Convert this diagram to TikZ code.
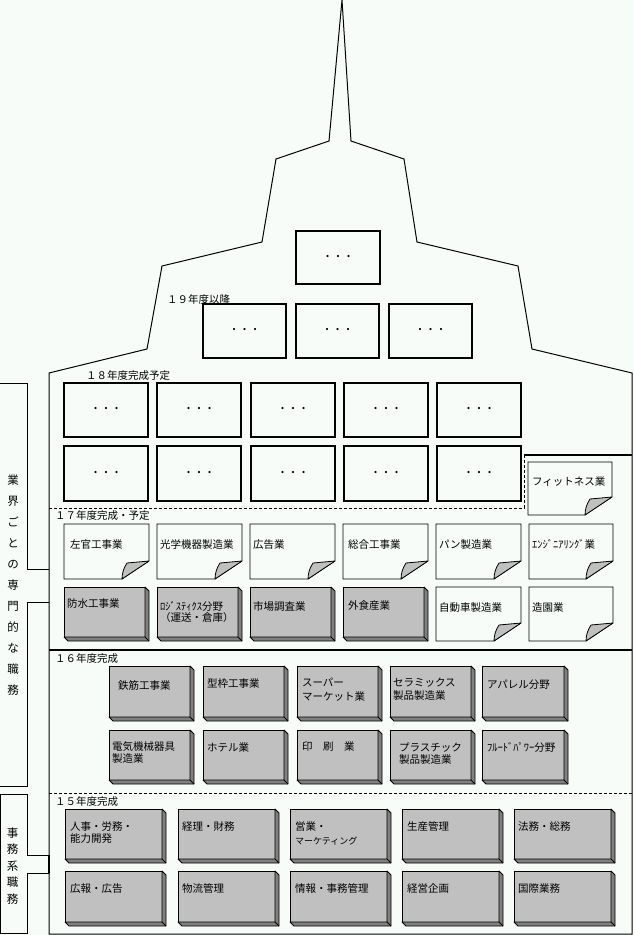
\documentclass[tikz,border=0pt]{standalone}
\usepackage{fontspec}
\newfontfamily\jfont{Noto Sans CJK JP}
\usepackage{tikz}
\definecolor{paper}{RGB}{248,252,248}
\definecolor{facegray}{RGB}{192,192,192}
\definecolor{sidegray}{RGB}{128,128,128}
\tikzset{
	jtext/.style={font=\jfont\fontsize{10.5}{12}\selectfont, inner sep=0pt, outer sep=0pt, align=left},
	outline/.style={draw=black, line width=1pt},
	dotbox/.style={draw=black, line width=1.6pt, fill=paper, anchor=north west, inner sep=0pt, outer sep=0pt, font=\jfont\fontsize{10.5}{12}\selectfont},
	grayface/.style={draw=black, line width=0.8pt, fill=facegray, anchor=north west, inner sep=0pt, outer sep=0pt},
	grayside/.style={draw=black, line width=0.8pt, fill=sidegray, line join=bevel},
	notepage/.style={draw=black, line width=0.8pt, fill=paper},
	notecurl/.style={draw=black, line width=0.8pt, fill=facegray, line join=bevel},
	divider/.style={draw=black, line width=0.8pt, dash pattern=on 3pt off 2pt},
	boldline/.style={draw=black, line width=2pt}
}
% name, x, y, w, h
\newcommand{\dotcell}[5]{\node[dotbox, minimum width=#4pt, minimum height=#5pt] (#1) at (#2,#3) {・・・};}
% name, x, y, w, h, dx, dy, text
\newcommand{\graycell}[8]{%
	\node[grayface, minimum width=#4pt, minimum height=#5pt] (#1) at (#2,#3) {};
	\draw[grayside] (#1.north east) -- ++(4,4) -- ++(0,#5) -- ++(-#4,0) -- (#1.south west) -- (#1.south east) -- cycle;
	\draw[line width=0.8pt] (#1.south east) -- ++(4,4);
	\node[jtext, anchor=north west] (#1-t) at ([shift={(#6,#7-5)}]#1.north west) {#8};
}
\newcommand{\notecell}[8]{%
	\coordinate (#1) at (#2,#3);
	\draw[notepage] (#1) -- ++(#4,0) -- ++(0,#5-18) -- ++(-27,18) -- ++(27-#4,0) -- cycle;
	\draw[notecurl] ([shift={(#4,#5-18)}]#1) -- ++(-27,18) to[bend left=15] ([shift={(#4-22,#5-16)}]#1) -- cycle;
	\node[jtext, anchor=north west] (#1-t) at ([shift={(#6,#7-5)}]#1) {#8};
}

\begin{document}
\begin{tikzpicture}[x=1pt, y=-1pt]
	\useasboundingbox (0,0) rectangle (633,935);
	\fill[paper] (0,0) rectangle (633,935);

	% building
	\draw[outline, fill=paper, line join=miter] (49,934) -- (49,373) -- (147,349) -- (162,266) -- (262,242) -- (276,159) -- (329,141) -- (342,0)
		-- (351,141) -- (404,159) -- (417,242) -- (518,266) -- (532,349) -- (632,373) -- (632,934) -- cycle;
	\draw[divider] (49,508) -- (524,508) -- (524,455);
	\draw[boldline] (524,455) -- (632,455);
	\draw[boldline] (49,650) -- (632,650);
	\draw[divider] (49,793) -- (632,793);

	% side labels
	\draw[outline] (49,569) -- (27,569) -- (27,383) -- (0,383);
	\draw[outline] (0,786) -- (27,786) -- (27,602) -- (49,602);
	\draw[outline] (49,855) -- (27,855) -- (27,794) -- (0.5,794) -- (0.5,933) -- (27,933) -- (27,873) -- (49,873);
	\draw[boldline] (49,855) -- (49,873);
	\node[jtext, align=center, font=\jfont\fontsize{11.5}{21}\selectfont] (side1) at (13,585) {業\\界\\ご\\と\\の\\専\\門\\的\\な\\職\\務};
	\node[jtext, align=center, font=\jfont\fontsize{11.5}{16.5}\selectfont] (side2) at (12.5,866) {事\\務\\系\\職\\務};

	% year labels
	\node[jtext, anchor=west] (y19) at (167,299) {１９年度以降};
	\node[jtext, anchor=west] (y18) at (86,376) {１８年度完成予定};
	\node[jtext, anchor=west] (y17) at (55,516) {１７年度完成・予定};
	\node[jtext, anchor=west] (y16) at (55,659) {１６年度完成};
	\node[jtext, anchor=west] (y15) at (55,802) {１５年度完成};

	% 19 and later
	\dotcell{d0}{296}{231}{84}{53}
	\foreach \i/\x in {1/203,2/296,3/389}
		\dotcell{d19-\i}{\x}{304}{83}{54};
	% 18
	\foreach \i/\x in {1/64,2/157,3/251,4/344,5/437}{
		\dotcell{d18a-\i}{\x}{383}{84}{54}
		\dotcell{d18b-\i}{\x}{446}{84}{55}
	}
	\notecell{fit}{528}{462}{84}{53}{4}{20}{フィットネス業}

	% 17
	\notecell{n1}{64}{524}{85}{55}{6}{21}{左官工事業}
	\notecell{n2}{157}{524}{85}{55}{3}{21}{光学機器製造業}
	\notecell{n3}{250}{524}{85}{55}{3}{21}{広告業}
	\notecell{n4}{343}{524}{85}{55}{5}{21}{総合工事業}
	\notecell{n5}{436}{524}{85}{55}{3}{21}{パン製造業}
	\notecell{n6}{529}{524}{84}{55}{3}{21}{ｴﾝｼﾞﾆｱﾘﾝｸﾞ業}
	\graycell{g1}{64}{587}{81}{50}{3}{17}{防水工事業}
	\graycell{g2}{157}{587}{81}{50}{3}{20}{ﾛｼﾞｽﾃｨｸｽ分野\\[-1pt]（運送・倉庫）}
	\graycell{g3}{250}{587}{81}{50}{3}{20}{市場調査業}
	\graycell{g4}{343}{587}{81}{50}{5}{19}{外食産業}
	\notecell{n7}{436}{587}{85}{54}{3}{21}{自動車製造業}
	\notecell{n8}{529}{587}{84}{54}{3}{21}{造園業}

	% 16
	\graycell{g5}{109}{666}{81}{51}{9}{20}{鉄筋工事業}
	\graycell{g6}{203}{666}{81}{51}{4}{18}{型枠工事業}
	\graycell{g7}{297}{666}{81}{51}{5}{17}{スーパー\\[2pt]マーケット業}
	\graycell{g8}{390}{666}{81}{51}{3}{17}{セラミックス\\[1pt]製品製造業}
	\graycell{g9}{482}{666}{82}{51}{5}{19}{アパレル分野}
	\graycell{g10}{109}{730}{81}{50}{3}{17}{電気機械器具\\製造業}
	\graycell{g11}{203}{730}{81}{50}{4}{18}{ホテル業}
	\graycell{g12}{297}{730}{81}{50}{5}{17}{印　刷　業}
	\graycell{g13}{390}{730}{81}{50}{9}{18}{プラスチック\\製品製造業}
	\graycell{g14}{482}{730}{82}{50}{5}{18}{ﾌﾙｰﾄﾞﾊﾟﾜｰ分野}

	% 15
	\graycell{g15}{65}{809}{97}{50}{5}{18}{人事・労務・\\能力開発}
	\graycell{g16}{178}{809}{97}{50}{4}{18}{経理・財務}
	\graycell{g17}{290}{809}{97}{50}{5}{18}{営業・\\[2pt]{\fontsize{9}{9}\selectfont マーケティング}}
	\graycell{g18}{402}{809}{97}{50}{5}{18}{生産管理}
	\graycell{g19}{514}{809}{97}{50}{4}{18}{法務・総務}
	\graycell{g20}{65}{871}{97}{51}{5}{18}{広報・広告}
	\graycell{g21}{178}{871}{97}{51}{4}{18}{物流管理}
	\graycell{g22}{290}{871}{97}{51}{5}{18}{情報・事務管理}
	\graycell{g23}{402}{871}{97}{51}{5}{18}{経営企画}
	\graycell{g24}{514}{871}{97}{51}{4}{18}{国際業務}
\end{tikzpicture}
\end{document}
